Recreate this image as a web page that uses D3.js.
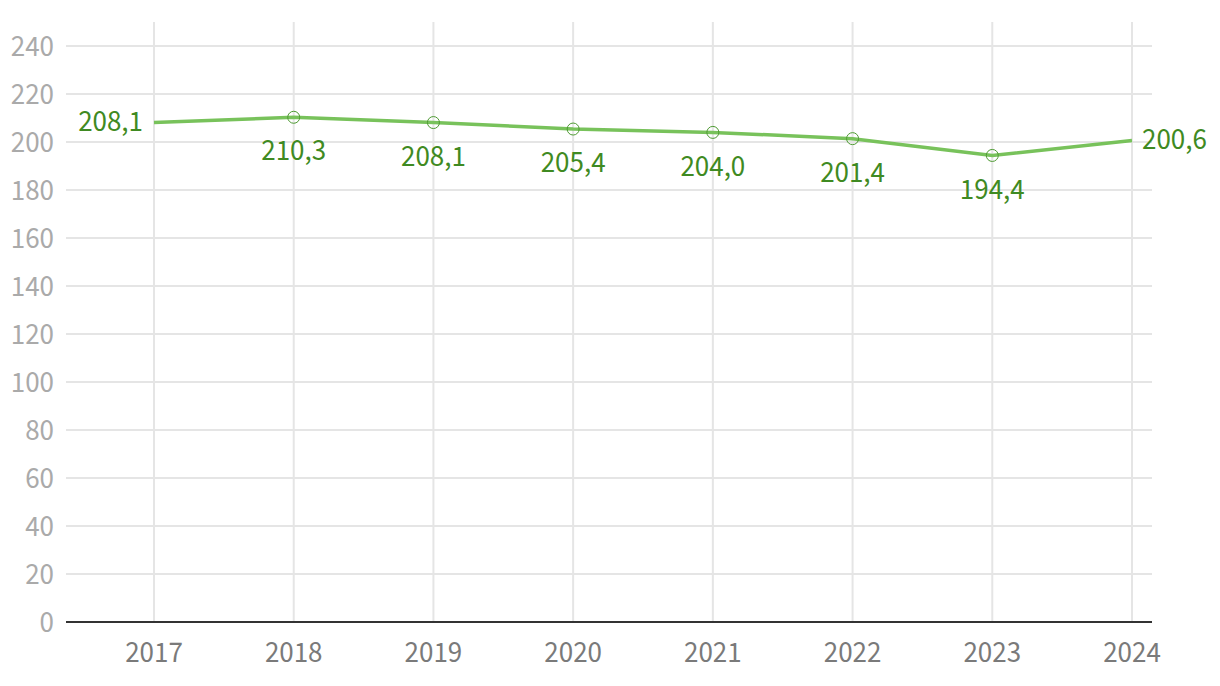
<!DOCTYPE html>
<html><head><meta charset="utf-8">
<script src="https://cdn.jsdelivr.net/npm/d3@7"></script>
<style>
html,body{margin:0;padding:0;background:#fff;}
svg{display:block;font-family:"Source Sans Pro","Source Sans 3",Lato,sans-serif;}
</style></head>
<body>
<svg id="chart" width="1220" height="686"></svg>
<script>
const years = [2017, 2018, 2019, 2020, 2021, 2022, 2023, 2024];
const values = [208.1, 210.3, 208.1, 205.4, 204.0, 201.4, 194.4, 200.6];
const labels = ["208,1", "210,3", "208,1", "205,4", "204,0", "201,4", "194,4", "200,6"];
const yTicks = [0, 20, 40, 60, 80, 100, 120, 140, 160, 180, 200, 220, 240];

(function () {
const svg = d3.select("#chart");
const mLeft = 66, mRight = 1152, mTop = 22, mBottom = 622;
const x = d3.scaleLinear().domain([2017, 2024]).range([154, 1132]);
const y = d3.scaleLinear().domain([0, 240]).range([mBottom, 46]);
const fs = 29;

// horizontal grid
svg.append("g").selectAll("line").data(yTicks.filter(d => d > 0)).join("line")
  .attr("x1", mLeft).attr("x2", mRight)
  .attr("y1", d => y(d)).attr("y2", d => y(d))
  .attr("stroke", "#e5e5e5").attr("stroke-width", 2);
// vertical grid
svg.append("g").selectAll("line").data(years).join("line")
  .attr("x1", d => x(d)).attr("x2", d => x(d))
  .attr("y1", mTop).attr("y2", mBottom)
  .attr("stroke", "#e5e5e5").attr("stroke-width", 2);

// y tick labels
svg.append("g").selectAll("text").data(yTicks).join("text")
  .attr("x", 54).attr("y", d => y(d)).attr("dy", "0.35em")
  .attr("text-anchor", "end").attr("fill", "#aaaaaa")
  .attr("font-size", fs).text(d => d);

// x axis line
svg.append("line").attr("x1", mLeft).attr("x2", mRight)
  .attr("y1", mBottom).attr("y2", mBottom)
  .attr("stroke", "#333").attr("stroke-width", 2);

// x tick labels
svg.append("g").selectAll("text").data(years).join("text")
  .attr("x", d => x(d)).attr("y", 652).attr("dy", "0.35em")
  .attr("text-anchor", "middle").attr("fill", "#7a7a7a")
  .attr("font-size", fs).text(d => d);

const data = years.map((yr, i) => ({yr, v: values[i], lab: labels[i], i}));

// line
svg.append("path").datum(data)
  .attr("fill", "none").attr("stroke", "#78c25b").attr("stroke-width", 3.5)
  .attr("d", d3.line().x(d => x(d.yr)).y(d => y(d.v)));

// markers (inner points)
svg.append("g").selectAll("circle").data(data.slice(1, -1)).join("circle")
  .attr("cx", d => x(d.yr)).attr("cy", d => y(d.v)).attr("r", 6)
  .attr("fill", "none").attr("stroke", "#4e9a32").attr("stroke-width", 1);

// labels
const last = data.length - 1;
svg.append("g").selectAll("text").data(data).join("text")
  .attr("x", d => d.i === 0 ? x(d.yr) - 11 : d.i === last ? x(d.yr) + 10 : x(d.yr))
  .attr("y", d => (d.i === 0 || d.i === last) ? y(d.v) - 2 : y(d.v) + 33)
  .attr("dy", "0.35em")
  .attr("text-anchor", d => d.i === 0 ? "end" : d.i === last ? "start" : "middle")
  .attr("fill", "#3f8a22").attr("font-size", fs)
  .text(d => d.lab);
})();
</script>
</body></html>
